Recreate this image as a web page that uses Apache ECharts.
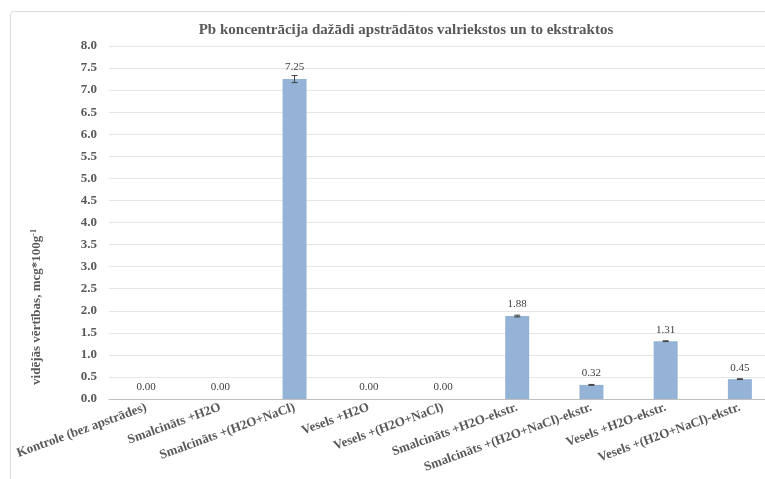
<!DOCTYPE html>
<html>
<head>
<meta charset="utf-8">
<script src="https://cdn.jsdelivr.net/npm/echarts@6/dist/echarts.min.js"></script>
<style>html,body{margin:0;padding:0;background:#fff;overflow:hidden;width:765px;height:479px;}#c{width:790px;height:479px;}</style>
</head>
<body>
<div id="c"></div>
<script>
const categories = [
  'Kontrole (bez apstrādes)',
  'Smalcināts +H2O',
  'Smalcināts +(H2O+NaCl)',
  'Vesels +H2O',
  'Vesels +(H2O+NaCl)',
  'Smalcināts +H2O-ekstr.',
  'Smalcināts +(H2O+NaCl)-ekstr.',
  'Vesels +H2O-ekstr.',
  'Vesels +(H2O+NaCl)-ekstr.'
];
const means = [0, 0, 7.25, 0, 0, 1.88, 0.32, 1.31, 0.45];
const errors = [0, 0, 0.08, 0, 0, 0.02, 0.01, 0.01, 0.01];
const yMin = 0, yMax = 8, yStep = 0.5;
const titleText = 'Pb koncentrācija dažādi apstrādātos valriekstos un to ekstraktos';

const FONT = '"Liberation Serif", "Times New Roman", serif';
const chart = echarts.init(document.getElementById('c'), null, {renderer: 'canvas'});
const errData = means.map((m, i) => [i, m - errors[i], m + errors[i], errors[i]]);

chart.setOption({
  animation: false,
  backgroundColor: '#fff',
  title: {
    text: titleText,
    left: 401, top: 18, textAlign: 'center',
    textStyle: {fontFamily: FONT, fontWeight: 'bold', fontSize: 15, color: '#595959'}
  },
  graphic: [
    {type: 'rect', shape: {x: 10.5, y: 11.5, width: 820, height: 520, r: 3},
     style: {fill: 'none', stroke: '#d9d9d9', lineWidth: 1}, z: -1},
    {type: 'text', x: 37, y: 307, rotation: Math.PI / 2,
     style: {
       text: '{a|vidējās vērtības, mcg*100g}{s|-1}',
       rich: {
         a: {fontFamily: FONT, fontWeight: 'bold', fontSize: 13, fill: '#595959'},
         s: {fontFamily: FONT, fontWeight: 'bold', fontSize: 8, fill: '#595959', verticalAlign: 'top', padding: [0,0,6,0]}
       },
       align: 'center', verticalAlign: 'middle'
     }}
  ],
  grid: {left: 109, right: 13, top: 46, bottom: 80, containLabel: false},
  xAxis: {
    type: 'category', data: categories,
    axisLine: {lineStyle: {color: '#bfbfbf'}},
    axisTick: {show: false},
    axisLabel: {interval: 0, rotate: 20, margin: 8,
      fontFamily: FONT, fontWeight: 'bold', fontSize: 13, color: '#595959'}
  },
  yAxis: {
    type: 'value', min: yMin, max: yMax, interval: yStep,
    axisLine: {show: false}, axisTick: {show: false},
    splitLine: {lineStyle: {color: '#e6e6e6'}},
    axisLabel: {margin: 12, formatter: v => v.toFixed(1),
      fontFamily: FONT, fontWeight: 'bold', fontSize: 13, color: '#595959'}
  },
  series: [
    {
      type: 'bar', data: means, barWidth: 24,
      itemStyle: {color: '#95b3d7'},
      label: {show: true, position: 'top', distance: 6,
        formatter: p => p.value.toFixed(2),
        fontFamily: FONT, fontSize: 11, color: '#404040'}
    },
    {
      type: 'custom', data: errData, z: 5,
      renderItem: function (params, api) {
        if (!api.value(3)) return null;
        const x = api.value(0);
        const lo = api.coord([x, api.value(1)]);
        const hi = api.coord([x, api.value(2)]);
        const w = 3;
        const st = {stroke: '#404040', lineWidth: 1};
        return {type: 'group', children: [
          {type: 'line', shape: {x1: lo[0], y1: lo[1], x2: hi[0], y2: hi[1]}, style: st},
          {type: 'line', shape: {x1: lo[0]-w, y1: lo[1], x2: lo[0]+w, y2: lo[1]}, style: st},
          {type: 'line', shape: {x1: hi[0]-w, y1: hi[1], x2: hi[0]+w, y2: hi[1]}, style: st}
        ]};
      },
      encode: {x: 0, y: [1, 2]}
    }
  ]
});
</script>
</body>
</html>
